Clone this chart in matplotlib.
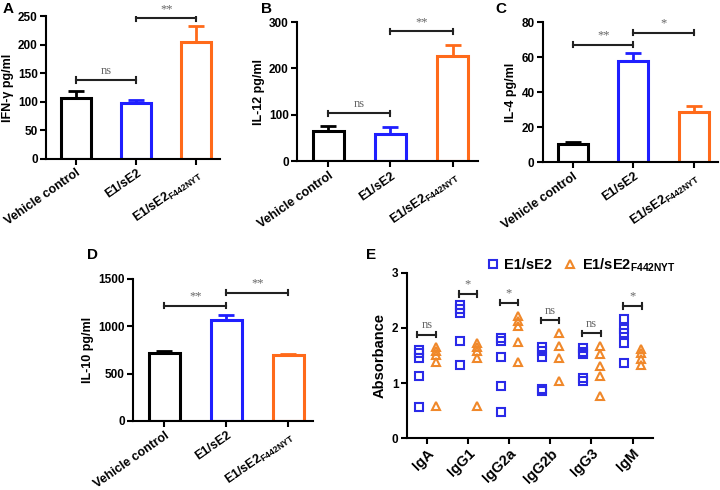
import numpy as np
import matplotlib
matplotlib.use("Agg")
import matplotlib.pyplot as plt
from matplotlib.lines import Line2D

plt.rcParams['font.family'] = ['Liberation Sans', 'DejaVu Sans']
plt.rcParams['font.weight'] = 'bold'
plt.rcParams['mathtext.default'] = 'bf'
plt.rcParams['mathtext.fontset'] = 'custom'
plt.rcParams['mathtext.bf'] = 'Liberation Sans:bold'

NARROW = ['Liberation Sans Narrow', 'Liberation Sans', 'DejaVu Sans']

# ---- data ----
groups = ["Vehicle control", "E1/sE2", "E1/sE2$_{F442NYT}$"]

ifn_mean = [107, 97, 205]
ifn_err = [12, 6, 28]
il12_mean = [66, 59, 227]
il12_err = [10, 15, 24]
il4_mean = [10.1, 57.5, 28.6]
il4_err = [1.3, 4.8, 3.2]
il10_mean = [713, 1066, 692]
il10_err = [21, 53, 17]

ifn_sig = [(0, 1, 138, 'ns'), (1, 2, 246, '**')]
il12_sig = [(0, 1, 103, 'ns'), (1, 2, 280, '**')]
il4_sig = [(0, 1, 67, '**'), (1, 2, 74, '*')]
il10_sig = [(0, 1, 1214, '**'), (1, 2, 1355, '**')]

ig_classes = ["IgA", "IgG1", "IgG2a", "IgG2b", "IgG3", "IgM"]
ig_wt = [[1.60, 1.55, 1.46, 1.12, 0.56],
         [2.42, 2.35, 2.28, 1.76, 1.32],
         [1.82, 1.76, 1.48, 0.95, 0.48],
         [1.65, 1.59, 1.47, 0.90, 0.85],
         [1.63, 1.57, 1.52, 1.10, 1.04],
         [2.16, 1.98, 1.90, 1.72, 1.37]]
ig_mut = [[1.66, 1.58, 1.50, 1.39, 0.58],
          [1.72, 1.65, 1.58, 1.45, 0.59],
          [2.22, 2.13, 2.04, 1.74, 1.39],
          [1.90, 1.68, 1.45, 1.03],
          [1.68, 1.52, 1.31, 1.12, 0.77],
          [1.61, 1.55, 1.43, 1.33]]
ig_sig_y = [1.88, 2.62, 2.46, 2.14, 1.90, 2.40]
ig_sig_txt = ['ns', '*', '*', 'ns', 'ns', '*']

colors = ['black', '#1f1fff', '#ff6a1a']
blue_pt = '#2a2ae8'
orange_pt = '#f0882a'
sig_color = '#666666'

fig = plt.figure(figsize=(7.2, 4.9), dpi=100)


def style(ax):
    for s in ['top', 'right']:
        ax.spines[s].set_visible(False)
    for s in ['left', 'bottom']:
        ax.spines[s].set_linewidth(1.5)
    ax.tick_params(width=1.5, length=4, pad=2)
    for lab in ax.get_yticklabels():
        lab.set_family(NARROW)
        lab.set_fontsize(8.5)


def bracket(ax, x1, x2, y, txt, h):
    ax.plot([x1, x2], [y, y], color='#222222', lw=1.5)
    ax.plot([x1, x1], [y - h, y + h], color='#222222', lw=1.5)
    ax.plot([x2, x2], [y - h, y + h], color='#222222', lw=1.5)
    ax.annotate(txt, ((x1 + x2) / 2, y), xytext=(0, 2.5), textcoords='offset points',
                ha='center', va='bottom', color=sig_color, fontsize=9,
                family='Liberation Serif', fontweight='normal')


def bar_panel(rect, means, errs, sig, ymax, step, ylabel, letter, lpos):
    ax = fig.add_axes(rect)
    x = np.arange(len(groups))
    ax.bar(x, means, width=0.5, facecolor='white', edgecolor=colors, linewidth=2.2, zorder=2)
    for i in range(len(x)):
        ax.errorbar(x[i], means[i], yerr=[[0], [errs[i]]], fmt='none',
                    ecolor=colors[i], elinewidth=2, capsize=5.5, capthick=2, zorder=1)
    for x1, x2, y, t in sig:
        bracket(ax, x1, x2, y, t, ymax * 0.018)
    ax.set_xlim(-0.5, 2.4)
    ax.set_ylim(0, ymax)
    ax.set_yticks(np.arange(0, ymax + 1, step))
    ax.set_xticks(x)
    ax.set_xticklabels(groups, rotation=35, ha='right', rotation_mode='anchor', fontsize=9)
    ax.set_ylabel(ylabel, fontsize=9, fontweight='bold', labelpad=3)
    style(ax)
    fig.text(lpos[0], lpos[1], letter, fontsize=11, fontweight='bold', va='top')
    return ax


bar_panel([0.064, 0.676, 0.242, 0.291], ifn_mean, ifn_err, ifn_sig, 250, 50,
          "IFN-γ pg/ml", "A", (0.003, 0.995))
bar_panel([0.4125, 0.671, 0.251, 0.284], il12_mean, il12_err, il12_sig, 300, 100,
          "IL-12 pg/ml", "B", (0.362, 0.995))
bar_panel([0.754, 0.669, 0.243, 0.286], il4_mean, il4_err, il4_sig, 80, 20,
          "IL-4 pg/ml", "C", (0.688, 0.995))
bar_panel([0.185, 0.141, 0.25, 0.29], il10_mean, il10_err, il10_sig, 1500, 500,
          "IL-10 pg/ml", "D", (0.121, 0.493))

# ---- panel E ----
axe = fig.add_axes([0.565, 0.106, 0.342, 0.337])
for i in range(len(ig_classes)):
    axe.plot([i - 0.2] * len(ig_wt[i]), ig_wt[i], 's', mfc='none', mec=blue_pt,
             mew=1.5, ms=5.5, ls='none')
    axe.plot([i + 0.2] * len(ig_mut[i]), ig_mut[i], '^', mfc='none', mec=orange_pt,
             mew=1.5, ms=5.5, ls='none')
    bracket(axe, i - 0.24, i + 0.22, ig_sig_y[i], ig_sig_txt[i], 0.05)
axe.set_xlim(-0.5, 5.5)
axe.set_ylim(0, 3)
axe.set_yticks([0, 1, 2, 3])
axe.set_xticks(np.arange(len(ig_classes)))
axe.set_xticklabels(ig_classes, rotation=45, ha='right', rotation_mode='anchor', fontsize=10.5)
axe.set_ylabel("Absorbance", fontsize=10.5, fontweight='bold', labelpad=4)
style(axe)
handles = [Line2D([], [], marker='s', mfc='none', mec=blue_pt, mew=1.5, ms=6, ls='none'),
           Line2D([], [], marker='^', mfc='none', mec=orange_pt, mew=1.5, ms=6, ls='none')]
axe.legend(handles, ["E1/sE2", "E1/sE2$_{F442NYT}$"], loc='lower left',
           bbox_to_anchor=(0.29, 0.96), ncol=2, frameon=False,
           handletextpad=0.2, columnspacing=0.6, borderaxespad=0, handlelength=1.2,
           prop={'family': NARROW, 'weight': 'bold', 'size': 10.5})
fig.text(0.508, 0.493, "E", fontsize=11, fontweight='bold', va='top')

fig.savefig("out.png", dpi=100)
